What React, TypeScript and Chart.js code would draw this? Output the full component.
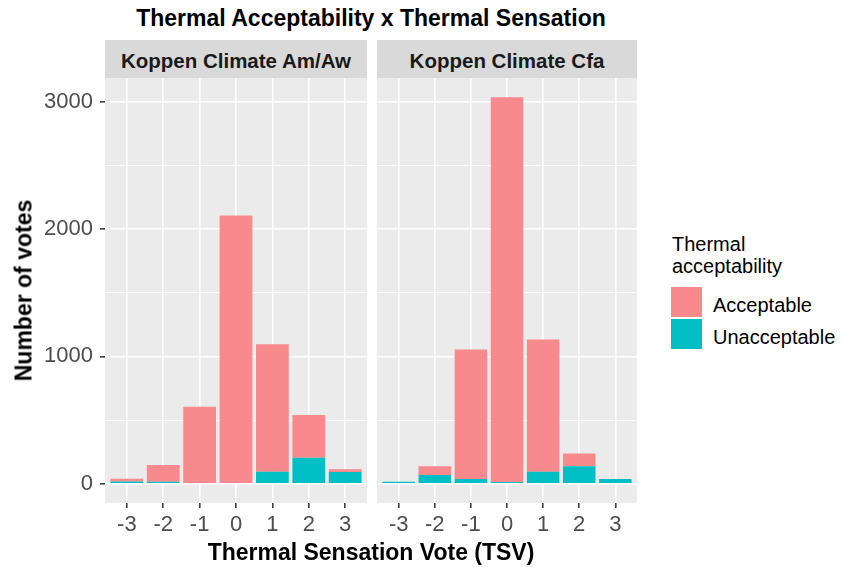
import React, { useEffect, useRef } from "react";
import { Chart, registerables } from "chart.js";

Chart.register(...registerables);

// ---------------- data ----------------
const tsvValues = [-3, -2, -1, 0, 1, 2, 3];
const tsvLabels = ["-3", "-2", "-1", "0", "1", "2", "3"];
const panelTitles = ["Koppen Climate Am/Aw", "Koppen Climate Cfa"];
const amAwAcceptable = [21, 131, 604, 2107, 1002, 335, 21];
const amAwUnacceptable = [18, 16, 0, 0, 94, 204, 92];
const cfaAcceptable = [0, 68, 1017, 3022, 1039, 102, 0];
const cfaUnacceptable = [16, 68, 37, 13, 94, 136, 37];
const yMajorTicks = [0, 1000, 2000, 3000];
const yMinorTicks = [500, 1500, 2500];
const seriesNames = ["Acceptable", "Unacceptable"];
const seriesColors = ["#F8898D", "#00BFC4"];
const legendTitleLines = ["Thermal", "acceptability"];
const chartTitle = "Thermal Acceptability x Thermal Sensation";
const xTitle = "Thermal Sensation Vote (TSV)";
const yTitle = "Number of votes";

// ---------------- layout ----------------
const FONT = '"Liberation Sans", Arial, Helvetica, sans-serif';
const PANEL_TOP = 78;
const PANEL_BOTTOM = 503;
const PANELS = [
  { left: 105, right: 367 },
  { left: 377, right: 637 },
];
const PAD = 30;
const X_AXIS_H = 40;

const maxTotal = Math.max(
  ...amAwAcceptable.map((v, i) => v + amAwUnacceptable[i]),
  ...cfaAcceptable.map((v, i) => v + cfaUnacceptable[i])
);
const Y_MIN = -0.05 * maxTotal;
const Y_MAX = maxTotal * 1.05;

const panelBg = {
  id: "panelBg",
  beforeDraw(chart: any) {
    const { ctx, chartArea } = chart;
    ctx.save();
    ctx.fillStyle = "#EBEBEB";
    ctx.fillRect(
      chartArea.left,
      chartArea.top,
      chartArea.right - chartArea.left,
      chartArea.bottom - chartArea.top
    );
    ctx.restore();
  },
};

function Panel(props: {
  acceptable: number[];
  unacceptable: number[];
  showY: boolean;
  index: number;
}) {
  const ref = useRef<HTMLCanvasElement | null>(null);
  const p = PANELS[props.index];
  const canvasLeft = props.showY ? 0 : p.left - 10;
  const canvasWidth = p.right + 10 - canvasLeft;
  const canvasTop = PANEL_TOP - PAD;
  const canvasHeight = PAD + (PANEL_BOTTOM - PANEL_TOP) + X_AXIS_H;

  useEffect(() => {
    if (!ref.current) return;
    const chart = new Chart(ref.current, {
      type: "bar",
      data: {
        datasets: [
          {
            label: seriesNames[1],
            data: tsvValues.map((x, i) => ({ x, y: props.unacceptable[i] })),
            backgroundColor: seriesColors[1],
            borderWidth: 0,
            barPercentage: 0.9,
            categoryPercentage: 1,
          },
          {
            label: seriesNames[0],
            data: tsvValues.map((x, i) => ({ x, y: props.acceptable[i] })),
            backgroundColor: seriesColors[0],
            borderWidth: 0,
            barPercentage: 0.9,
            categoryPercentage: 1,
          },
        ],
      },
      plugins: [panelBg],
      options: {
        animation: false,
        responsive: false,
        devicePixelRatio: 1,
        layout: {
          padding: {
            top: PAD,
            bottom: 0,
            left: props.showY ? 0 : 10,
            right: 10,
          },
        },
        plugins: {
          legend: { display: false },
          tooltip: { enabled: false },
        },
        scales: {
          x: {
            type: "linear",
            stacked: true,
            offset: false,
            min: -3.6,
            max: 3.6,
            bounds: "data",
            afterBuildTicks: (scale: any) => {
              scale.ticks = tsvValues.map((v) => ({ value: v }));
            },
            afterFit: (scale: any) => {
              scale.height = X_AXIS_H;
            },
            border: { display: false },
            grid: {
              offset: false,
              color: "#FFFFFF",
              lineWidth: 1.6,
              tickColor: "#333333",
              tickLength: 5,
              tickWidth: 1.5,
            },
            ticks: {
              autoSkip: false,
              maxRotation: 0,
              padding: 4,
              color: "#4D4D4D",
              font: { family: FONT, size: 22 },
              callback: (v: any) => {
                const i = tsvValues.indexOf(Number(v));
                return i >= 0 ? tsvLabels[i] : "";
              },
            },
          },
          y: {
            type: "linear",
            stacked: true,
            min: Y_MIN,
            max: Y_MAX,
            bounds: "data",
            afterBuildTicks: (scale: any) => {
              scale.ticks = [...yMajorTicks, ...yMinorTicks]
                .sort((a, b) => a - b)
                .map((v) => ({ value: v }));
            },
            afterFit: (scale: any) => {
              scale.width = props.showY ? PANELS[0].left : 0;
            },
            border: { display: false },
            grid: {
              color: "#FFFFFF",
              lineWidth: (ctx: any) =>
                ctx.tick && yMajorTicks.includes(ctx.tick.value) ? 1.6 : 0.9,
              drawTicks: props.showY,
              tickLength: 5,
              tickWidth: 1.5,
              tickColor: (ctx: any) =>
                ctx.tick && yMajorTicks.includes(ctx.tick.value)
                  ? "#333333"
                  : "rgba(0,0,0,0)",
            },
            ticks: {
              display: props.showY,
              padding: 7,
              color: "#4D4D4D",
              font: { family: FONT, size: 22 },
              callback: (v: any) =>
                yMajorTicks.includes(Number(v)) ? String(v) : "",
            },
          },
        },
      } as any,
    });
    return () => chart.destroy();
  }, []);

  return (
    <canvas
      ref={ref}
      width={canvasWidth}
      height={canvasHeight}
      style={{
        position: "absolute",
        left: canvasLeft,
        top: canvasTop,
        width: canvasWidth,
        height: canvasHeight,
      }}
    />
  );
}

export default function App() {
  return (
    <div
      style={{
        position: "fixed",
        left: 0,
        top: 0,
        width: 843,
        height: 567,
        background: "#FFFFFF",
        fontFamily: FONT,
        overflow: "hidden",
      }}
    >
      <div
        style={{
          position: "absolute",
          left: 105,
          width: 532,
          top: 7,
          fontSize: 23,
          lineHeight: "23px",
          fontWeight: "bold",
          textAlign: "center",
          color: "#000",
          whiteSpace: "nowrap",
        }}
      >
        {chartTitle}
      </div>

      {PANELS.map((p, i) => (
        <div
          key={i}
          style={{
            position: "absolute",
            left: p.left,
            top: 40,
            width: p.right - p.left,
            height: PANEL_TOP - 40,
            background: "#D9D9D9",
          }}
        >
          <div
            style={{
              position: "absolute",
              left: 0,
              width: "100%",
              top: 11,
              fontSize: 20.5,
              lineHeight: "20.5px",
              fontWeight: "bold",
              textAlign: "center",
              color: "#1A1A1A",
              whiteSpace: "nowrap",
            }}
          >
            {panelTitles[i]}
          </div>
        </div>
      ))}

      <Panel
        index={0}
        showY={true}
        acceptable={amAwAcceptable}
        unacceptable={amAwUnacceptable}
      />
      <Panel
        index={1}
        showY={false}
        acceptable={cfaAcceptable}
        unacceptable={cfaUnacceptable}
      />

      <div
        style={{
          position: "absolute",
          left: 105,
          width: 532,
          top: 540.5,
          fontSize: 23,
          lineHeight: "23px",
          fontWeight: "bold",
          textAlign: "center",
          color: "#000",
          whiteSpace: "nowrap",
        }}
      >
        {xTitle}
      </div>

      <div
        style={{
          position: "absolute",
          left: 24.3 - 150,
          width: 300,
          top: 290 - 11.5,
          height: 23,
          fontSize: 23,
          lineHeight: "23px",
          fontWeight: "bold",
          textAlign: "center",
          color: "#000",
          whiteSpace: "nowrap",
          transform: "rotate(-90deg)",
        }}
      >
        {yTitle}
      </div>

      <div
        style={{
          position: "absolute",
          left: 672,
          top: 234,
          fontSize: 20,
          lineHeight: "21.6px",
          color: "#000",
          whiteSpace: "nowrap",
        }}
      >
        {legendTitleLines.map((l, i) => (
          <div key={i}>{l}</div>
        ))}
      </div>

      {seriesNames.map((name, i) => (
        <React.Fragment key={name}>
          <div
            style={{
              position: "absolute",
              left: 671,
              top: 287 + i * 32,
              width: 31,
              height: 30,
              background: seriesColors[i],
            }}
          />
          <div
            style={{
              position: "absolute",
              left: 713,
              top: 294.8 + i * 32,
              fontSize: 20,
              lineHeight: "20px",
              color: "#000",
              whiteSpace: "nowrap",
            }}
          >
            {name}
          </div>
        </React.Fragment>
      ))}
    </div>
  );
}
